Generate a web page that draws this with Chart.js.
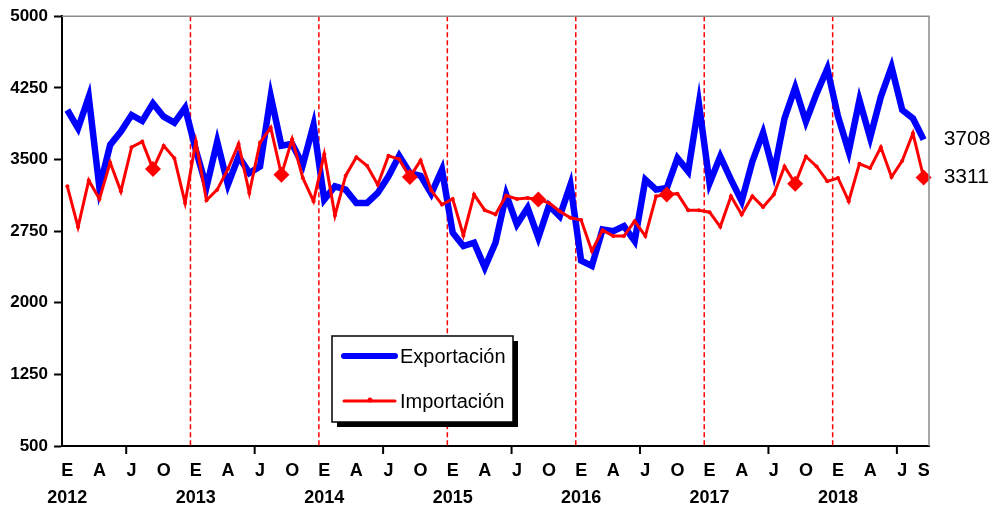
<!DOCTYPE html>
<html>
<head>
<meta charset="utf-8">
<script src="https://cdn.jsdelivr.net/npm/chart.js@4.4.1/dist/chart.umd.min.js"></script>
<style>
  body { margin: 0; background: #fff; }
  canvas { display: block; }
</style>
</head>
<body>
<canvas id="chart" width="991" height="510"></canvas>
<script>
// meses (E = enero ... D = diciembre) y años
const monthLetters = ['E', 'F', 'M', 'A', 'M', 'J', 'J', 'A', 'S', 'O', 'N', 'D'];
const yearLabels = ['2012', '2013', '2014', '2015', '2016', '2017', '2018'];
const shownMonths = [0, 3, 6, 9];
const lastMonthIndex = 8; // septiembre 2018

const exportacion = [
    4018, 3826, 4156, 3200, 3653, 3792, 3966, 3903, 4087, 3948, 3885, 4040,
    3600, 3210, 3687, 3236, 3531, 3358, 3427, 4163, 3643, 3663, 3444, 3861,
    3080, 3219, 3184, 3045, 3045, 3149, 3323, 3538, 3358, 3330, 3142, 3393,
    2733, 2594, 2628, 2368, 2628, 3132, 2819, 2993, 2681, 3017, 2906, 3236,
    2440, 2385, 2767, 2750, 2802, 2646, 3288, 3184, 3201, 3514, 3375, 4087,
    3253, 3531, 3288, 3063, 3479, 3781, 3358, 3930, 4253, 3896, 4191, 4451,
    3950, 3583, 4122, 3729, 4156, 4469, 4018, 3930, 3708
];

const importacion = [
    3219, 2792, 3281, 3087, 3469, 3167, 3628, 3687, 3399, 3643, 3514, 3045,
    3687, 3073, 3184, 3399, 3663, 3149, 3677, 3833, 3340, 3712, 3306, 3063,
    3555, 2913, 3330, 3524, 3434, 3236, 3538, 3503, 3316, 3490, 3177, 3028,
    3087, 2705, 3132, 2969, 2924, 3122, 3087, 3097, 3080, 3045, 2958, 2889,
    2865, 2542, 2760, 2698, 2698, 2854, 2698, 3115, 3132, 3142, 2969, 2969,
    2948, 2795, 3115, 2924, 3115, 3003, 3132, 3427, 3247, 3531, 3427, 3271,
    3306, 3063, 3455, 3410, 3628, 3316, 3486, 3774, 3311
];

const yMin = 500;
const yMax = 5000;
const yStep = 750;

// categorias mes-año
const categories = [];
yearLabels.forEach(function (year, y) {
    monthLetters.forEach(function (m, i) {
        if (y < yearLabels.length - 1 || i <= lastMonthIndex) categories.push(m + ' ' + year);
    });
});

const tickLabel = function (index) {
    const month = index % 12;
    const year = Math.floor(index / 12);
    if (index === categories.length - 1) return monthLetters[month];
    if (shownMonths.indexOf(month) === -1) return '';
    if (month === 0) return [monthLetters[month], yearLabels[year]];
    return monthLetters[month];
}

const FONT = "'Liberation Sans', Arial, sans-serif";

const decorPlugin = {
    id: 'decor',
    beforeDatasetsDraw: function (chart) {
        const ctx = chart.ctx;
        const area = chart.chartArea;
        const x = chart.scales.x;
        ctx.save();
        // lineas de año
        ctx.strokeStyle = '#FF0000';
        ctx.lineWidth = 1.5;
        ctx.setLineDash([5, 3]);
        for (let i = 12; i < categories.length; i += 12) {
            const px = (x.getPixelForValue(i - 1) + x.getPixelForValue(i)) / 2;
            ctx.beginPath();
            ctx.moveTo(px, area.top);
            ctx.lineTo(px, area.bottom);
            ctx.stroke();
        }
        ctx.restore();
    },
    afterDraw: function (chart) {
        const ctx = chart.ctx;
        const area = chart.chartArea;
        const x = chart.scales.x;
        const y = chart.scales.y;
        ctx.save();

        // borde gris superior y derecho
        ctx.strokeStyle = '#8c8c8c';
        ctx.lineWidth = 1.5;
        ctx.beginPath();
        ctx.moveTo(area.left, area.top);
        ctx.lineTo(area.right, area.top);
        ctx.lineTo(area.right, area.bottom);
        ctx.stroke();

        // marcas del eje x a mitad de año
        ctx.strokeStyle = '#000';
        ctx.lineWidth = 2;
        for (let i = 6; i < categories.length; i += 12) {
            const px = (x.getPixelForValue(i - 1) + x.getPixelForValue(i)) / 2;
            ctx.beginPath();
            ctx.moveTo(px, area.bottom);
            ctx.lineTo(px, area.bottom + 8);
            ctx.stroke();
        }

        // etiquetas de los ultimos valores
        const last = categories.length - 1;
        ctx.fillStyle = '#000';
        ctx.font = '21px ' + FONT;
        ctx.textAlign = 'left';
        ctx.textBaseline = 'middle';
        ctx.fillText(String(exportacion[last]), x.getPixelForValue(last) + 20, y.getPixelForValue(exportacion[last]));
        ctx.fillText(String(importacion[last]), x.getPixelForValue(last) + 20, y.getPixelForValue(importacion[last]));

        // leyenda
        const lx = 332, ly = 336, lw = 181, lh = 86;
        ctx.fillStyle = '#000';
        ctx.fillRect(lx + 5, ly + 5, lw, lh);
        ctx.fillStyle = '#fff';
        ctx.fillRect(lx, ly, lw, lh);
        ctx.strokeStyle = '#000';
        ctx.lineWidth = 1.5;
        ctx.strokeRect(lx, ly, lw, lh);

        ctx.lineCap = 'round';
        ctx.strokeStyle = '#0000FF';
        ctx.lineWidth = 6;
        ctx.beginPath();
        ctx.moveTo(lx + 12, ly + 20);
        ctx.lineTo(lx + 63, ly + 20);
        ctx.stroke();

        ctx.strokeStyle = '#FF0000';
        ctx.lineWidth = 3;
        ctx.beginPath();
        ctx.moveTo(lx + 12, ly + 65);
        ctx.lineTo(lx + 63, ly + 65);
        ctx.stroke();
        ctx.fillStyle = '#FF0000';
        ctx.beginPath();
        ctx.arc(lx + 38, ly + 64, 2.5, 0, Math.PI * 2);
        ctx.fill();

        ctx.fillStyle = '#000';
        ctx.font = '20px ' + FONT;
        ctx.textAlign = 'left';
        ctx.textBaseline = 'middle';
        ctx.fillText('Exportación', lx + 68, ly + 21);
        ctx.fillText('Importación', lx + 68, ly + 66);
        ctx.restore();
    }
};

const chart = new Chart(document.getElementById('chart'), {
    type: 'line',
    data: {
        labels: categories,
        datasets: [{
            label: 'Exportación',
            data: exportacion,
            borderColor: '#0000FF',
            borderWidth: 6.5,
            pointRadius: 0,
            tension: 0,
            fill: false,
            order: 2
        }, {
            label: 'Importación',
            data: importacion,
            borderColor: '#FF0000',
            backgroundColor: '#FF0000',
            borderWidth: 3,
            pointStyle: function (c) { return c.dataIndex % 12 === 8 ? 'rectRot' : 'circle'; },
            pointRadius: function (c) { return c.dataIndex % 12 === 8 ? 8 : 2; },
            pointBorderWidth: 0,
            tension: 0,
            fill: false,
            order: 1
        }]
    },
    options: {
        responsive: false,
        animation: false,
        devicePixelRatio: 1,
        layout: { padding: { top: 14, right: 62, left: 0, bottom: 0 } },
        plugins: {
            legend: { display: false },
            tooltip: { enabled: false }
        },
        scales: {
            x: {
                type: 'category',
                offset: true,
                grid: { display: false },
                border: { color: '#000', width: 2 },
                ticks: {
                    autoSkip: false,
                    maxRotation: 0,
                    minRotation: 0,
                    padding: 4,
                    color: '#000',
                    font: { family: FONT, size: 18, weight: 'bold', lineHeight: 1.5 },
                    callback: function (value, index) { return tickLabel(index); }
                },
                afterFit: function (scale) { scale.height = 64; }
            },
            y: {
                min: yMin,
                max: yMax,
                ticks: {
                    stepSize: yStep,
                    padding: 6,
                    color: '#000',
                    font: { family: FONT, size: 17, weight: 'bold' },
                    callback: function (value) { return String(value); }
                },
                grid: { drawOnChartArea: false, tickLength: 8, color: '#000', tickWidth: 2 },
                border: { color: '#000', width: 2 },
                afterFit: function (scale) { scale.width = 62; }
            }
        }
    },
    plugins: [decorPlugin]
});
</script>
</body>
</html>
